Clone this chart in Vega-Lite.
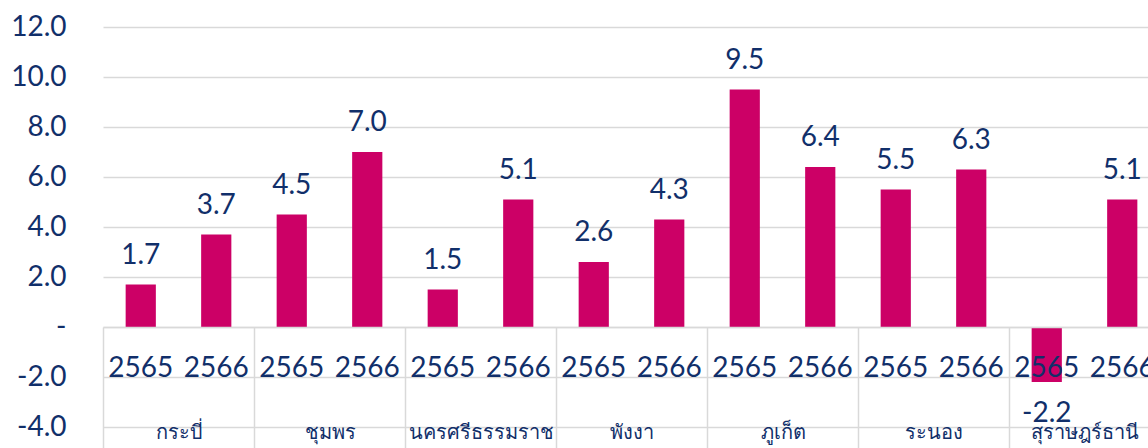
{
  "$schema": "https://vega.github.io/schema/vega-lite/v6.json",
  "width": 1045,
  "height": 400,
  "autosize": {"type": "none"},
  "padding": {"left": 103, "top": 27, "right": 0, "bottom": 21},
  "background": "white",
  "config": {
    "view": {"stroke": null},
    "font": "Lato, 'Noto Sans', sans-serif",
    "locale": {"number": {"decimal": ".", "thousands": ",", "grouping": [3], "currency": ["$", ""], "minus": "-"}}
  },
  "data": {"values": [
    {"province": "กระบี่", "year": "2565", "value": 1.7},
    {"province": "กระบี่", "year": "2566", "value": 3.7},
    {"province": "ชุมพร", "year": "2565", "value": 4.5},
    {"province": "ชุมพร", "year": "2566", "value": 7.0},
    {"province": "นครศรีธรรมราช", "year": "2565", "value": 1.5},
    {"province": "นครศรีธรรมราช", "year": "2566", "value": 5.1},
    {"province": "พังงา", "year": "2565", "value": 2.6},
    {"province": "พังงา", "year": "2566", "value": 4.3},
    {"province": "ภูเก็ต", "year": "2565", "value": 9.5},
    {"province": "ภูเก็ต", "year": "2566", "value": 6.4},
    {"province": "ระนอง", "year": "2565", "value": 5.5},
    {"province": "ระนอง", "year": "2566", "value": 6.3},
    {"province": "สุราษฎร์ธานี", "year": "2565", "value": -2.2},
    {"province": "สุราษฎร์ธานี", "year": "2566", "value": 5.1}
  ]},
  "transform": [{"calculate": "datum.province + '|' + datum.year", "as": "key"}],
  "layer": [
    {
      "mark": {"type": "rule", "opacity": 0},
      "encoding": {
        "x": {
          "field": "province", "type": "nominal", "sort": null,
          "scale": {"range": [0, 1057], "paddingInner": 0, "paddingOuter": 0},
          "axis": {
            "orient": "bottom", "offset": -100, "title": null, "labelAngle": 0,
            "domain": false, "ticks": true, "tickBand": "extent", "tickSize": 121,
            "tickColor": "#D9D9D9", "tickWidth": 1.5,
            "labelPadding": -16, "labelBaseline": "middle",
            "labelFontSize": 20, "labelColor": "#112F6A", "labelFontWeight": "normal"
          }
        }
      }
    },
    {
      "encoding": {
        "x": {
          "field": "key", "type": "nominal", "sort": null,
          "scale": {"range": [0, 1057], "paddingInner": 0.6, "paddingOuter": 0.3},
          "axis": {
            "orient": "bottom", "offset": -100, "title": null, "labelAngle": 0,
            "zindex": 1,
            "labelExpr": "split(datum.value, '|')[1]",
            "domain": true, "domainColor": "#D9D9D9", "domainWidth": 1.5,
            "ticks": false, "labelPadding": 41, "labelBaseline": "middle",
            "labelFontSize": 28, "labelColor": "#112F6A"
          }
        },
        "y": {
          "field": "value", "type": "quantitative",
          "scale": {"domain": [-4, 12], "nice": false, "zero": false},
          "axis": {
            "values": [-4, -2, 0, 2, 4, 6, 8, 10, 12],
            "labelExpr": "datum.value == 0 ? '-\u00a0\u00a0' : format(datum.value, '.1f')",
            "grid": true, "gridColor": "#D9D9D9", "gridWidth": 1.5,
            "domain": false, "ticks": false, "labelPadding": 37,
            "labelFontSize": 28, "labelColor": "#112F6A", "title": null
          }
        }
      },
      "layer": [
        {"mark": {"type": "bar", "color": "#CC0066"}},
        {
          "transform": [{"filter": "datum.value >= 0"}],
          "mark": {"type": "text", "dy": -29, "baseline": "middle", "fontSize": 28, "color": "#112F6A"},
          "encoding": {"text": {"field": "value", "type": "quantitative", "format": ".1f"}}
        },
        {
          "transform": [{"filter": "datum.value < 0"}],
          "mark": {"type": "text", "dy": 32, "baseline": "middle", "fontSize": 28, "color": "#112F6A"},
          "encoding": {"text": {"field": "value", "type": "quantitative", "format": ".1f"}}
        }
      ]
    }
  ],
  "resolve": {"scale": {"x": "independent"}, "axis": {"x": "independent"}}
}
